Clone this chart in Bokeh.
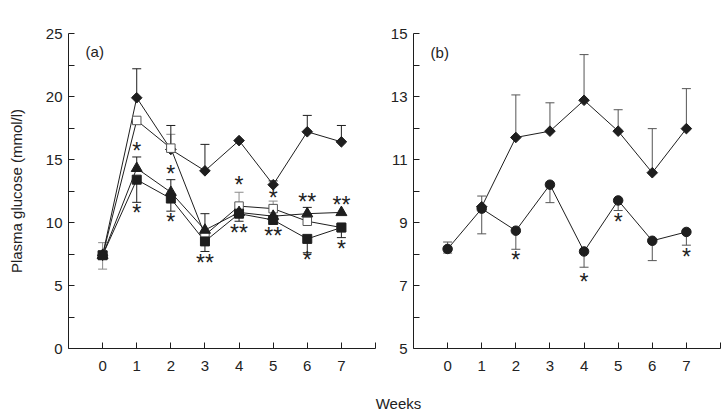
from bokeh.plotting import figure
from bokeh.layouts import row, column
from bokeh.models import Range1d, FixedTicker
from bokeh.embed import file_html
from bokeh.resources import INLINE
from bokeh.core.properties import value

FONT = "Liberation Sans"
INK = "#1e1e1e"
GREY = "#8a8a8a"

# ---------------- data ----------------
weeks = [0, 1, 2, 3, 4, 5, 6, 7]
x_ticks = [0, 1, 2, 3, 4, 5, 6, 7, 8]
x_tick_labels = ["0", "1", "2", "3", "4", "5", "6", "7", ""]

# panel (a)
a_y_ticks = [0, 5, 10, 15, 20, 25]
a_y_minor = [2.5, 7.5, 12.5, 17.5, 22.5]
a_diamond = [7.4, 19.9, 15.8, 14.1, 16.5, 13.0, 17.2, 16.4]
a_diamond_hi = [None, 22.2, 17.7, 16.2, None, 13.3, 18.5, 17.7]
a_open = [7.4, 18.1, 15.9, 9.0, 11.3, 11.1, 10.1, 9.6]
a_open_hi = [8.4, None, 17.0, None, 12.4, 11.7, None, None]
a_open_lo = [6.3, None, None, None, None, None, None, None]
a_tri = [7.4, 14.3, 12.4, 9.4, 10.8, 10.5, 10.7, 10.8]
a_tri_hi = [None, 15.2, 13.4, 10.7, None, None, 11.2, None]
a_sq = [7.4, 13.4, 11.9, 8.5, 10.7, 10.2, 8.7, 9.6]
a_sq_lo = [None, 11.6, 10.9, 7.7, 10.1, None, 7.6, 8.8]
a_star_x = [1, 1, 2, 2, 3, 4, 4, 5, 5, 6, 6, 7, 7]
a_star_y = [15.9, 11.0, 14.1, 10.3, 7.0, 13.2, 9.4, 12.2, 9.2, 11.9, 7.25, 11.65, 8.1]
a_star_txt = ["*", "*", "*", "*", "**", "*", "**", "*", "**", "**", "*", "**", "*"]

# panel (b)
b_y_ticks = [5, 7, 9, 11, 13, 15]
b_y_minor = [6, 8, 10, 12, 14]
b_diamond_weeks = [1, 2, 3, 4, 5, 6, 7]
b_diamond = [9.5, 11.7, 11.9, 12.88, 11.9, 10.58, 11.98]
b_diamond_hi = [None, 13.05, 12.8, 14.33, 12.58, 11.98, 13.25]
b_circle = [8.16, 9.44, 8.74, 10.2, 8.08, 9.7, 8.42, 8.7]
b_circle_hi = [8.38, 9.84, None, None, None, None, None, None]
b_circle_lo = [8.03, 8.64, 8.15, 9.63, 7.58, 9.38, 7.79, 8.28]
b_star_x = [2, 4, 5, 7]
b_star_y = [7.9, 7.22, 9.1, 8.0]
b_star_txt = ["*", "*", "*", "*"]


def make_panel(y_range, y_ticks, y_minor, border_left, border_right, ylabel):
    p = figure(frame_width=307, frame_height=315,
               x_range=Range1d(-1, 8), y_range=y_range,
               min_border_left=border_left, min_border_right=border_right,
               min_border_top=33, min_border_bottom=37,
               output_backend="svg", toolbar_location=None,
               background_fill_color="white", border_fill_color="white")
    p.outline_line_color = None
    p.grid.visible = False
    p.xaxis.ticker = FixedTicker(ticks=x_ticks)
    p.xaxis.major_label_overrides = {t: l for t, l in zip(x_ticks, x_tick_labels)}
    p.yaxis.ticker = FixedTicker(ticks=y_ticks, minor_ticks=y_minor)
    for ax in (p.xaxis[0], p.yaxis[0]):
        ax.axis_line_color = INK
        ax.axis_line_width = 1
        ax.major_tick_line_color = INK
        ax.minor_tick_line_color = INK
        ax.major_tick_in = 6
        ax.major_tick_out = 0
        ax.minor_tick_in = 6
        ax.minor_tick_out = 0
        ax.major_label_text_font = FONT
        ax.major_label_text_font_size = "15px"
        ax.major_label_text_color = "#222222"
    p.xaxis.minor_tick_line_color = None
    p.xaxis.major_label_standoff = 12
    p.yaxis.major_label_standoff = 6
    if ylabel:
        p.yaxis.axis_label = ylabel
        p.yaxis.axis_label_text_font = FONT
        p.yaxis.axis_label_text_font_size = "15px"
        p.yaxis.axis_label_text_font_style = "normal"
        p.yaxis.axis_label_text_color = "#222222"
        p.yaxis.axis_label_standoff = 18
    return p


def errbars(p, xs, ys, ends, color):
    sx, sy, se = [], [], []
    for x, y, e in zip(xs, ys, ends):
        if e is None:
            continue
        sx.append(x)
        sy.append(y)
        se.append(e)
    if not sx:
        return
    p.segment(x0=sx, y0=sy, x1=sx, y1=se, line_color=color, line_width=1)
    p.scatter(x=sx, y=se, marker="dash", size=9, line_color=color, line_width=1)


def stars(p, xs, ys, txt):
    p.text(x=xs, y=ys, text=txt, text_font=value(FONT), text_font_size="23px",
           text_color=INK, text_align="center", text_baseline="alphabetic",
           y_offset=3)


# ---------------- panel (a) ----------------
pa = make_panel(Range1d(0, 25), a_y_ticks, a_y_minor, 68, 3, "Plasma glucose (mmol/l)")
errbars(pa, weeks, a_open, a_open_hi, GREY)
errbars(pa, weeks, a_open, a_open_lo, GREY)
errbars(pa, weeks, a_diamond, a_diamond_hi, INK)
errbars(pa, weeks, a_tri, a_tri_hi, INK)
errbars(pa, weeks, a_sq, a_sq_lo, INK)
for ys in (a_diamond, a_open, a_tri, a_sq):
    pa.line(weeks, ys, line_color=INK, line_width=1)
pa.scatter(weeks, a_diamond, marker="square", angle=0.785398, size=7.5,
           fill_color=INK, line_color=INK)
pa.scatter(weeks, a_open, marker="square", size=8.5, fill_color="white",
           line_color="#555555", line_width=1)
pa.scatter(weeks, a_tri, marker="triangle", size=11, fill_color=INK, line_color=INK)
pa.scatter(weeks, a_sq, marker="square", size=9, fill_color=INK, line_color=INK)
stars(pa, a_star_x, a_star_y, a_star_txt)
pa.text(x=[-0.5], y=[23.6], text=["(a)"], text_font=value(FONT), text_font_size="15px",
        text_color="#222222", text_align="left", text_baseline="middle")

# ---------------- panel (b) ----------------
pb = make_panel(Range1d(5, 15), b_y_ticks, b_y_minor, 35, 4, None)
errbars(pb, b_diamond_weeks, b_diamond, b_diamond_hi, "#555555")
errbars(pb, weeks, b_circle, b_circle_hi, "#555555")
errbars(pb, weeks, b_circle, b_circle_lo, "#555555")
pb.line(b_diamond_weeks, b_diamond, line_color=INK, line_width=1)
pb.line(weeks, b_circle, line_color=INK, line_width=1)
pb.scatter(b_diamond_weeks, b_diamond, marker="square", angle=0.785398, size=7.5,
           fill_color=INK, line_color=INK)
pb.scatter(weeks, b_circle, marker="circle", size=9.5, fill_color=INK, line_color=INK)
stars(pb, b_star_x, b_star_y, b_star_txt)
pb.text(x=[-0.5], y=[14.4], text=["(b)"], text_font=value(FONT), text_font_size="15px",
        text_color="#222222", text_align="left", text_baseline="middle")

# ---------------- shared x label ----------------
pw = figure(width=724, height=30, x_range=Range1d(0, 724), y_range=Range1d(0, 30),
            x_axis_type=None, y_axis_type=None, min_border=0,
            output_backend="svg", toolbar_location=None)
pw.outline_line_color = None
pw.grid.visible = False
pw.text(x=[398], y=[12], text=["Weeks"], text_font=value(FONT), text_font_size="15px",
        text_color="#222222", text_align="center", text_baseline="middle")

layout = column(row(pa, pb), pw)
open("out.html", "w").write(file_html(layout, INLINE))
